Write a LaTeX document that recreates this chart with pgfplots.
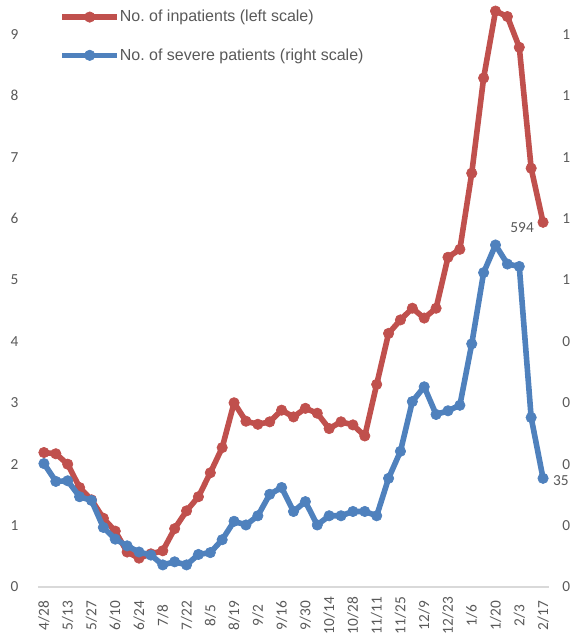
\documentclass[border=0pt]{standalone}
\usepackage{pgfplots}
\pgfplotsset{compat=1.18}
\usepackage{pgfplotstable}
\usepackage{fontspec}
\setmainfont{Carlito}
\newfontfamily\legendfont{Liberation Sans}

\definecolor{redline}{HTML}{C0504D}
\definecolor{blueline}{HTML}{4F81BD}
\definecolor{ticktext}{HTML}{595959}
\definecolor{axisgray}{HTML}{D9D9D9}

% inpatients, in hundreds (left scale)
\pgfplotstableread{
i inpatients
0 2.19
1 2.17
2 2.00
3 1.62
4 1.42
5 1.12
6 0.91
7 0.57
8 0.47
9 0.54
10 0.59
11 0.95
12 1.24
13 1.47
14 1.86
15 2.27
16 3.00
17 2.70
18 2.65
19 2.69
20 2.88
21 2.77
22 2.91
23 2.83
24 2.58
25 2.69
26 2.64
27 2.46
28 3.30
29 4.13
30 4.35
31 4.54
32 4.38
33 4.54
34 5.37
35 5.50
36 6.74
37 8.29
38 9.38
39 9.29
40 8.79
41 6.82
42 5.94
}\inpatients

% severe patients, in hundreds (right scale)
\pgfplotstableread{
i severe
0 0.402
1 0.344
2 0.346
3 0.294
4 0.282
5 0.194
6 0.156
7 0.134
8 0.114
9 0.104
10 0.072
11 0.082
12 0.072
13 0.106
14 0.112
15 0.154
16 0.214
17 0.202
18 0.232
19 0.302
20 0.324
21 0.246
22 0.278
23 0.202
24 0.232
25 0.232
26 0.246
27 0.246
28 0.232
29 0.354
30 0.442
31 0.604
32 0.652
33 0.562
34 0.574
35 0.592
36 0.792
37 1.024
38 1.114
39 1.052
40 1.044
41 0.552
42 0.354
}\severe

\pgfplotsset{
  common/.style={
    scale only axis,
    width=383.25pt, height=440.25pt,
    xmin=-0.5, xmax=42.5, ymin=0,
    clip mode=individual,
    axis line style={draw=none},
    major tick length=0pt,
    tick label style={font=\fontsize{11.5}{13}\selectfont, text=ticktext},
    /pgf/number format/assume math mode=true,
  },
  series/.style={
    color=#1, line width=4.2pt, line join=round,
    mark=*, mark size=3.9pt, mark options={solid, line width=0.5pt, fill=#1},
  },
}

\begin{document}
\frenchspacing
\begin{tikzpicture}
\begin{axis}[common,
  ymax=9.56,
  ytick={0,1,...,9},
  yticklabel style={inner sep=0pt},
  yticklabel shift=14.5pt,
  xtick={0,2,...,42},
  xticklabels={4/28,5/13,5/27,6/10,6/24,7/8,7/22,8/5,8/19,9/2,9/16,9/30,10/14,10/28,11/11,11/25,12/9,12/23,1/6,1/20,2/3,2/17},
  xticklabel style={rotate=90, anchor=center, inner sep=0pt},
  xticklabel shift=21.5pt,
  extra y ticks={0},
  extra y tick labels={},
  extra y tick style={grid=major, major grid style={axisgray, line width=1.1pt}},
  legend cell align=left,
  legend image code/.code={
    \draw[mark repeat=2, mark phase=2, #1] plot coordinates {(0pt,0pt) (20.5pt,0pt) (41pt,0pt)};
  },
  legend style={at={(0,1)}, anchor=north west, xshift=16pt, yshift=-7.5pt,
    draw=none, fill=none, inner sep=0pt,
    font=\legendfont\fontsize{12}{14}\selectfont, text=ticktext,
    row sep=18.5pt,
    nodes={inner sep=0pt},
    /tikz/every even column/.append style={column sep=2.5pt}},
]
\addplot[series=redline] table[x=i, y=inpatients] {\inpatients};
\addlegendentry{No.\ of inpatients (left scale)}
\addlegendimage{series=blueline}
\addlegendentry{No.\ of severe patients (right scale)}
\node[anchor=east, inner sep=0pt, xshift=-6.75pt, yshift=-3.75pt,
  font=\fontsize{11.5}{13}\selectfont, text=ticktext] at (axis cs:42,5.94) {594};
\end{axis}

\begin{axis}[common,
  ymax=1.912,
  ytick={0,0.2,0.4,0.6,0.8,1,1.2,1.4,1.6,1.8},
  yticklabels={0,0,0,0,0,1,1,1,1,1},
  yticklabel pos=right,
  yticklabel style={anchor=west, inner sep=0pt},
  yticklabel shift=9.75pt,
  xtick=\empty,
]
\addplot[series=blueline] table[x=i, y=severe] {\severe};
\node[anchor=west, inner sep=0pt, xshift=7.3pt, yshift=-1.5pt,
  font=\fontsize{11.5}{13}\selectfont, text=ticktext] at (axis cs:42,0.354) {35};
\end{axis}

\pgfresetboundingbox
\path[use as bounding box] ([xshift=-28.5pt, yshift=-34.5pt]current axis.south west)
  rectangle ([xshift=17.25pt]current axis.north east);
\end{tikzpicture}
\end{document}
